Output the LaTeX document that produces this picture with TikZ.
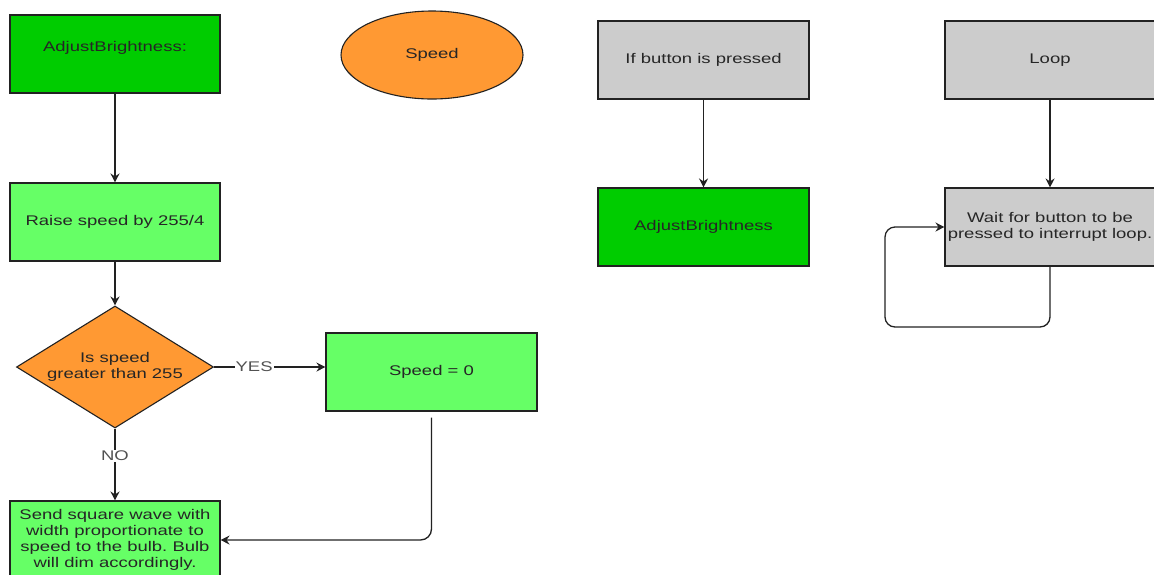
\documentclass[tikz,border=0pt]{standalone}
\usepackage{fontspec}
\setmainfont{Liberation Sans}[FakeStretch=1.32]
\usetikzlibrary{shapes.geometric,arrows.meta,calc}
\definecolor{darkgreen}{HTML}{00CC00}
\definecolor{lightgreen}{HTML}{66FF66}
\definecolor{orangefill}{HTML}{FF9933}
\definecolor{greyfill}{HTML}{CCCCCC}
\definecolor{linecol}{HTML}{222222}
\definecolor{textcol}{HTML}{262626}
\frenchspacing
\tikzset{
  box/.style={rectangle, draw=linecol, line width=1.1pt, minimum width=210pt,
    minimum height=78pt, inner sep=0pt, align=center, text=textcol,
    font=\fontsize{14pt}{16pt}\selectfont},
  darkbox/.style={box, fill=darkgreen},
  lightbox/.style={box, fill=lightgreen},
  greybox/.style={box, fill=greyfill},
  oval/.style={ellipse, draw=linecol, line width=1.1pt, fill=orangefill,
    minimum width=182pt, minimum height=88pt, inner sep=0pt, text=textcol,
    font=\fontsize{14pt}{16pt}\selectfont},
  decision/.style={diamond, aspect=1.6, draw=linecol, line width=1.1pt,
    fill=orangefill, minimum width=197pt, minimum height=122pt, inner sep=0pt,
    align=center, text=textcol, font=\fontsize{14pt}{16pt}\selectfont},
  conn/.style={draw=linecol, line width=1.3pt,
    -{Stealth[length=9pt,width=9pt,inset=3pt]}},
  edgelabel/.style={fill=white, inner sep=1pt, text=textcol!80,
    font=\fontsize{14pt}{16pt}\selectfont}
}
\begin{document}
\begin{tikzpicture}[x=1pt, y=-1pt]
  \useasboundingbox (0,0) rectangle (1154,574);
  \fill[white] (0,0) rectangle (1154,574);

  % left column: brightness routine
  \node[darkbox]  (adj)   at (115,54)   {AdjustBrightness:\\\mbox{}};
  \node[oval]     (speed) at (432,55)   {Speed};
  \node[lightbox] (raise) at (115,222)  {Raise speed by 255/4};
  \node[decision] (check) at (115,367)  {Is speed\\greater than 255};
  \node[lightbox, minimum width=211pt] (zero) at (431.5,372) {Speed = 0};
  \node[lightbox] (send)  at (115,540)
    {Send square wave with\\width proportionate to\\speed to the bulb. Bulb\\will dim accordingly.};

  % button handling
  \node[greybox, minimum width=211pt] (button) at (703.5,60) {If button is pressed};
  \node[darkbox, minimum width=211pt] (adjcall) at (703.5,227) {AdjustBrightness};

  % main loop
  \node[greybox] (loop) at (1050,60) {Loop};
  \node[greybox] (wait) at (1050,227) {Wait for button to be\\pressed to interrupt loop.};

  % connectors
  \draw[conn] (adj.south) -- (raise.north);
  \draw[conn] (raise.south) -- (check.north);
  \draw[conn] (check.east) -- node[edgelabel, pos=0.36] {YES} (check.east -| zero.west);
  \draw[conn] (check.south) -- node[edgelabel, pos=0.38] {NO} (send.north);
  \coordinate (zerodrop) at ($(zero.south)+(0,6)$);
  \draw[conn, rounded corners=11pt] (zerodrop) |- (send.east);
  \draw[conn] (button.south) -- (adjcall.north);
  \draw[conn] (loop.south) -- (wait.north);
  \coordinate (loopturn) at (885,327);
  \draw[conn, rounded corners=10pt] (wait.south) -- (wait.south |- loopturn)
    -- (loopturn) -- (loopturn |- wait.west) -- (wait.west);
\end{tikzpicture}
\end{document}
